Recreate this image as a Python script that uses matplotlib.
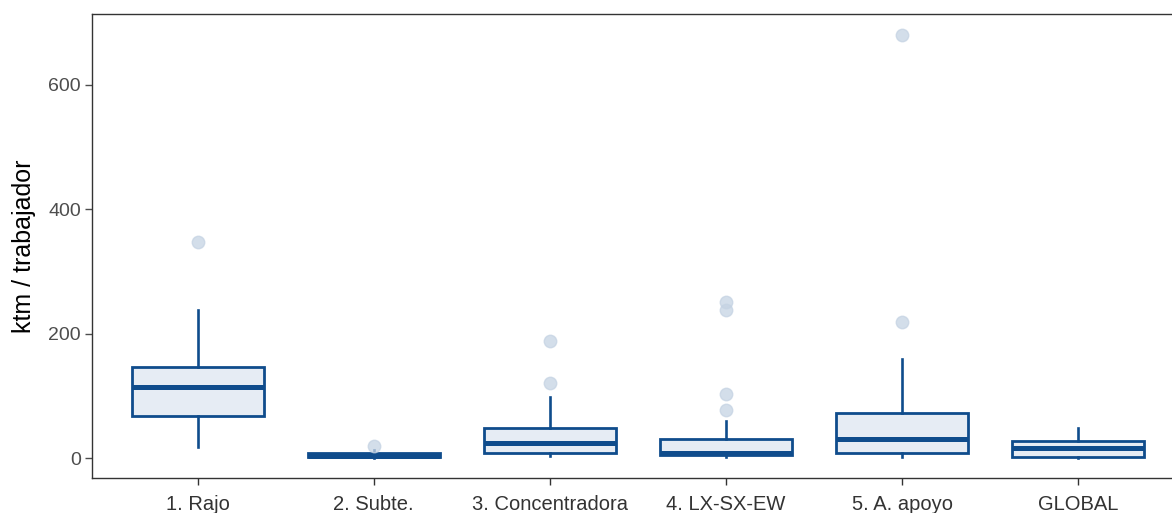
import matplotlib.pyplot as plt

plt.rcParams['font.family'] = ['Liberation Sans', 'DejaVu Sans']

categories = ['1. Rajo', '2. Subte.', '3. Concentradora', '4. LX-SX-EW', '5. A. apoyo', 'GLOBAL']
whisker_lo = [18, 0, 3, 1, 2, 0]
q1 = [67, 1, 7.5, 5, 7.5, 1]
median = [114, 4, 24, 8.5, 30.5, 17]
q3 = [146, 8, 49, 30, 73, 28]
whisker_hi = [238, 13, 98, 59, 160, 49]
outliers = [
    [347],
    [20],
    [121, 189],
    [77, 103, 238, 251],
    [219, 681],
    [],
]

stats = []
for i, name in enumerate(categories):
    stats.append({
        'label': name,
        'whislo': whisker_lo[i], 'q1': q1[i], 'med': median[i],
        'q3': q3[i], 'whishi': whisker_hi[i], 'fliers': outliers[i],
    })

edge = '#0F4C8C'
fill = '#E6ECF4'

fig = plt.figure(figsize=(11.72, 5.13), dpi=100)
ax = fig.add_axes([92 / 1172, 35 / 513, 1092 / 1172, 464 / 513])

ax.bxp(stats, positions=range(1, 7), widths=0.75, patch_artist=True, showcaps=False,
       boxprops=dict(facecolor=fill, edgecolor=edge, linewidth=2.0),
       medianprops=dict(color=edge, linewidth=3.6, solid_capstyle='butt'),
       whiskerprops=dict(color=edge, linewidth=1.9),
       flierprops=dict(marker='o', markersize=9, markerfacecolor='#C5D3E3',
                       markeredgecolor='#C5D3E3', alpha=0.75))

ax.set_xlim(0.4, 6.6)
ax.set_ylim(-32, 714)
ax.set_yticks([0, 200, 400, 600])
ax.set_ylabel('ktm / trabajador', fontsize=18, color='black', labelpad=9)
ax.tick_params(axis='y', labelsize=14, colors='#4D4D4D', length=5, width=1, pad=3)
ax.tick_params(axis='x', labelsize=14.5, colors='#333333', length=5, width=1, pad=7)
for s in ax.spines.values():
    s.set_color('#333333')
    s.set_linewidth(1.0)

fig.savefig('out.png', dpi=100)
